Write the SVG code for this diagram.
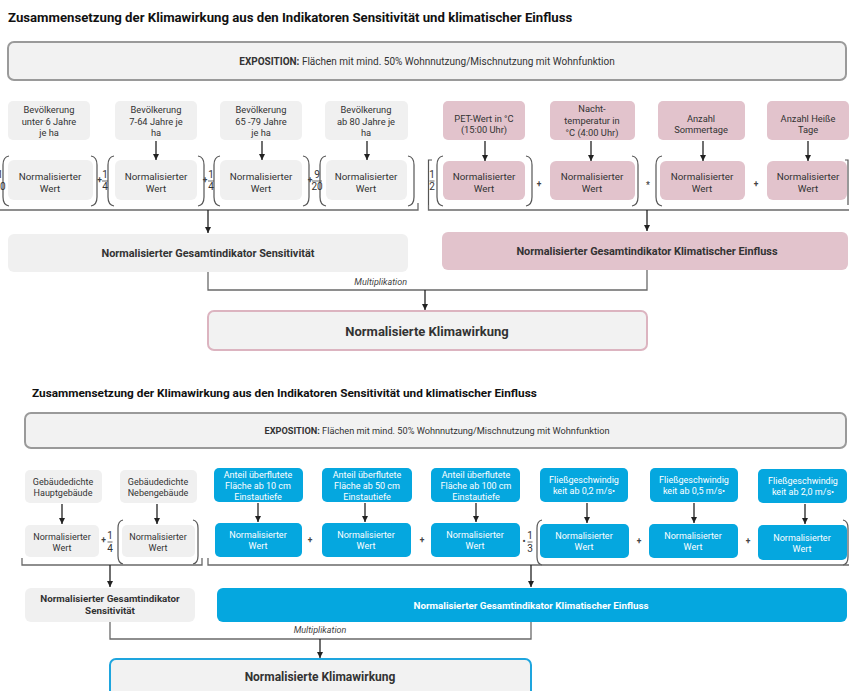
<svg xmlns="http://www.w3.org/2000/svg" width="849" height="691" viewBox="0 0 849 691">
  <defs>
    <marker id="ah" markerWidth="6" markerHeight="6" refX="6" refY="3" orient="auto" markerUnits="userSpaceOnUse">
      <path d="M0,0 L6,3 L0,6 z" fill="#222"/>
    </marker>
    <style>
      text { font-family: Roboto, "Liberation Sans", sans-serif; fill: #333; }
      .title { font-weight: bold; fill: #111; }
      .b { font-weight: bold; }
      .w { fill: #fff; }
      .c { text-anchor: middle; }
      .src { font-size: 9.3px; }
      .nrm { font-size: 9.8px; }
      .src2 { font-size: 9px; }
      .op { font-size: 8.5px; font-weight: bold; text-anchor: middle; fill: #444; }
      .fr { font-size: 10px; text-anchor: middle; fill: #333; }
      .gray { fill: #f0f0f0; }
      .pink { fill: #e2c3cc; }
      .blue { fill: #05a7df; }
      .expo { fill: #f2f2f2; stroke: #9a9a9a; stroke-width: 2; }
      .ln { fill: none; stroke: #6a6a6a; stroke-width: 1.3; }
      .par { fill: none; stroke: #555; stroke-width: 1.2; }
      .arr { fill: none; stroke: #222; stroke-width: 1.3; marker-end: url(#ah); }
      .frl { stroke: #444; stroke-width: 0.8; }
      .mul { font-size: 9px; font-style: italic; fill: #444; }
    </style>
  </defs>

  <!-- ===================== Upper scheme: heat ===================== -->
  <text class="title" x="8" y="22" font-size="13.2">Zusammensetzung der Klimawirkung aus den Indikatoren Sensitivität und klimatischer Einfluss</text>

  <g id="expo-top">
    <rect class="expo" x="8" y="42" width="838" height="38" rx="6"/>
    <text x="427" y="64.5" font-size="10" class="c"><tspan class="b">EXPOSITION:</tspan> Flächen mit mind. 50% Wohnnutzung/Mischnutzung mit Wohnfunktion</text>
  </g>

  <!-- sensitivity inputs -->
  <g id="bev-u6">
    <rect class="gray" x="8" y="101" width="82" height="39" rx="5"/>
    <text class="src c" x="49" y="113">Bevölkerung</text>
    <text class="src c" x="49" y="124.5">unter 6 Jahre</text>
    <text class="src c" x="49" y="136">je ha</text>
  </g>
  <g id="bev-7-64">
    <rect class="gray" x="115" y="101" width="82" height="39" rx="5"/>
    <text class="src c" x="156" y="113">Bevölkerung</text>
    <text class="src c" x="156" y="124.5">7-64 Jahre je</text>
    <text class="src c" x="156" y="136">ha</text>
  </g>
  <g id="bev-65-79">
    <rect class="gray" x="220" y="101" width="82" height="39" rx="5"/>
    <text class="src c" x="261" y="113">Bevölkerung</text>
    <text class="src c" x="261" y="124.5">65 -79 Jahre</text>
    <text class="src c" x="261" y="136">je ha</text>
  </g>
  <g id="bev-80">
    <rect class="gray" x="325" y="101" width="83" height="39" rx="5"/>
    <text class="src c" x="366" y="113">Bevölkerung</text>
    <text class="src c" x="366" y="124.5">ab 80 Jahre je</text>
    <text class="src c" x="366" y="136">ha</text>
  </g>

  <g id="norm-s1">
    <rect class="gray" x="8" y="160" width="85" height="40" rx="6"/>
    <text class="nrm c" x="50" y="180">Normalisierter</text>
    <text class="nrm c" x="50" y="191.5">Wert</text>
  </g>
  <g id="norm-s2">
    <rect class="gray" x="115" y="160" width="82" height="40" rx="6"/>
    <text class="nrm c" x="156" y="180">Normalisierter</text>
    <text class="nrm c" x="156" y="191.5">Wert</text>
  </g>
  <g id="norm-s3">
    <rect class="gray" x="220" y="160" width="82" height="40" rx="6"/>
    <text class="nrm c" x="261" y="180">Normalisierter</text>
    <text class="nrm c" x="261" y="191.5">Wert</text>
  </g>
  <g id="norm-s4">
    <rect class="gray" x="326" y="160" width="81" height="40" rx="6"/>
    <text class="nrm c" x="366" y="180">Normalisierter</text>
    <text class="nrm c" x="366" y="191.5">Wert</text>
  </g>

  <!-- climate inputs -->
  <g id="pet">
    <rect class="pink" x="443" y="101" width="82" height="39" rx="5"/>
    <text class="src c" x="484" y="122">PET-Wert in °C</text>
    <text class="src c" x="484" y="133">(15:00 Uhr)</text>
  </g>
  <g id="nacht">
    <rect class="pink" x="550" y="101" width="85" height="39" rx="5"/>
    <text class="src c" x="592" y="112">Nacht-</text>
    <text class="src c" x="592" y="124">temperatur in</text>
    <text class="src c" x="592" y="136">°C (4:00 Uhr)</text>
  </g>
  <g id="sommertage">
    <rect class="pink" x="658" y="101" width="87" height="39" rx="5"/>
    <text class="src c" x="701" y="122">Anzahl</text>
    <text class="src c" x="701" y="133">Sommertage</text>
  </g>
  <g id="heisse-tage">
    <rect class="pink" x="767" y="101" width="82" height="39" rx="5"/>
    <text class="src c" x="808" y="122">Anzahl Heiße</text>
    <text class="src c" x="808" y="133">Tage</text>
  </g>

  <g id="norm-k1">
    <rect class="pink" x="443" y="161" width="82" height="39" rx="6"/>
    <text class="nrm c" x="484" y="180">Normalisierter</text>
    <text class="nrm c" x="484" y="191.5">Wert</text>
  </g>
  <g id="norm-k2">
    <rect class="pink" x="550" y="161" width="85" height="39" rx="6"/>
    <text class="nrm c" x="592" y="180">Normalisierter</text>
    <text class="nrm c" x="592" y="191.5">Wert</text>
  </g>
  <g id="norm-k3">
    <rect class="pink" x="660" y="161" width="85" height="39" rx="6"/>
    <text class="nrm c" x="702" y="180">Normalisierter</text>
    <text class="nrm c" x="702" y="191.5">Wert</text>
  </g>
  <g id="norm-k4">
    <rect class="pink" x="767" y="161" width="80" height="39" rx="6"/>
    <text class="nrm c" x="808" y="180">Normalisierter</text>
    <text class="nrm c" x="808" y="191.5">Wert</text>
  </g>

  <!-- upper formula: brackets, operators, weights -->
  <g id="formula-top">
    <path class="par" d="M9,156 Q3,157 3,165 L3,197 Q3,205 9,206"/>
    <path class="par" d="M91,156 Q97,157 97,165 L97,197 Q97,205 91,206"/>
    <path class="par" d="M114,156 Q108,157 108,165 L108,197 Q108,205 114,206"/>
    <path class="par" d="M198,156 Q204,157 204,165 L204,197 Q204,205 198,206"/>
    <path class="par" d="M220,156 Q214,157 214,165 L214,197 Q214,205 220,206"/>
    <path class="par" d="M303,156 Q309,157 309,165 L309,197 Q309,205 303,206"/>
    <path class="par" d="M326,156 Q320,157 320,165 L320,197 Q320,205 326,206"/>
    <path class="par" d="M408,156 Q414,157 414,165 L414,197 Q414,205 408,206"/>

    <text class="fr" x="0" y="178">1</text>
    <text class="fr" x="0" y="190">20</text>
    <text class="op" x="99.5" y="183">+</text>
    <text class="fr" x="105" y="178">1</text>
    <line class="frl" x1="102" y1="181" x2="108" y2="181"/>
    <text class="fr" x="105" y="190">4</text>
    <text class="op" x="205" y="183">+</text>
    <text class="fr" x="211" y="178">1</text>
    <line class="frl" x1="208" y1="181" x2="214" y2="181"/>
    <text class="fr" x="211" y="190">4</text>
    <text class="op" x="310" y="183">+</text>
    <text class="fr" x="317" y="178">9</text>
    <line class="frl" x1="312" y1="181" x2="322" y2="181"/>
    <text class="fr" x="317" y="190">20</text>

    <path class="par" d="M432,160 L428.5,160 L428.5,205"/>
    <text class="fr" x="432" y="178" font-size="9">1</text>
    <line class="frl" x1="429.5" y1="181" x2="434.5" y2="181"/>
    <text class="fr" x="432" y="189.5" font-size="9">2</text>
    <path class="par" d="M443,156 Q437,157 437,165 L437,197 Q437,205 443,206"/>
    <path class="par" d="M526,156 Q532,157 532,165 L532,197 Q532,205 526,206"/>
    <text class="op" x="539" y="187">+</text>
    <path class="par" d="M632,156 Q638,157 638,165 L638,197 Q638,205 632,206"/>
    <text class="op" x="648" y="188">*</text>
    <path class="par" d="M662,156 Q656,157 656,165 L656,197 Q656,205 662,206"/>
    <text class="op" x="756" y="187">+</text>
    <path class="par" d="M845,160 L848,160 L848,205"/>
  </g>

  <g id="sens-total-top">
    <rect class="gray" x="8" y="234" width="400" height="38" rx="6"/>
    <text class="b c" x="208" y="257" font-size="10.9">Normalisierter Gesamtindikator Sensitivität</text>
  </g>
  <g id="klima-total-top">
    <rect class="pink" x="442" y="232" width="406" height="38" rx="6"/>
    <text class="b c" x="647" y="255" font-size="10.9">Normalisierter Gesamtindikator Klimatischer Einfluss</text>
  </g>

  <g id="wirkung-top">
    <rect x="208" y="311" width="439" height="39" rx="6" fill="#f2f2f2" stroke="#dcb4c0" stroke-width="2"/>
    <text class="b c" x="427" y="335.5" font-size="13" fill="#111">Normalisierte Klimawirkung</text>
  </g>

  <!-- ===================== Lower scheme: heavy rain ===================== -->
  <text class="title" x="32" y="397" font-size="11.8">Zusammensetzung der Klimawirkung aus den Indikatoren Sensitivität und klimatischer Einfluss</text>

  <g id="expo-bottom">
    <rect class="expo" x="25" y="413" width="821" height="35" rx="6"/>
    <text x="437" y="434" font-size="9.2" class="c"><tspan class="b">EXPOSITION:</tspan> Flächen mit mind. 50% Wohnnutzung/Mischnutzung mit Wohnfunktion</text>
  </g>

  <g id="haupt">
    <rect class="gray" x="25" y="470" width="77" height="33" rx="5"/>
    <text class="src2 c" x="63" y="485">Gebäudedichte</text>
    <text class="src2 c" x="63" y="496">Hauptgebäude</text>
  </g>
  <g id="neben">
    <rect class="gray" x="120" y="470" width="77" height="33" rx="5"/>
    <text class="src2 c" x="158" y="485">Gebäudedichte</text>
    <text class="src2 c" x="158" y="496">Nebengebäude</text>
  </g>
  <g id="norm-g1">
    <rect class="gray" x="25" y="525" width="74" height="32" rx="5"/>
    <text class="src2 c" x="62" y="540">Normalisierter</text>
    <text class="src2 c" x="62" y="551">Wert</text>
  </g>
  <g id="norm-g2">
    <rect class="gray" x="122" y="525" width="73" height="32" rx="5"/>
    <text class="src2 c" x="158" y="540">Normalisierter</text>
    <text class="src2 c" x="158" y="551">Wert</text>
  </g>

  <g id="flut-10">
    <rect class="blue" x="214" y="468" width="89" height="34" rx="5"/>
    <text class="src2 c w" x="258" y="477.5">Anteil überflutete</text>
    <text class="src2 c w" x="258" y="489">Fläche ab 10 cm</text>
    <text class="src2 c w" x="258" y="500">Einstautiefe</text>
  </g>
  <g id="flut-50">
    <rect class="blue" x="322" y="468" width="90" height="34" rx="5"/>
    <text class="src2 c w" x="367" y="477.5">Anteil überflutete</text>
    <text class="src2 c w" x="367" y="489">Fläche ab 50 cm</text>
    <text class="src2 c w" x="367" y="500">Einstautiefe</text>
  </g>
  <g id="flut-100">
    <rect class="blue" x="431" y="468" width="89" height="34" rx="5"/>
    <text class="src2 c w" x="476" y="477.5">Anteil überflutete</text>
    <text class="src2 c w" x="476" y="489">Fläche ab 100 cm</text>
    <text class="src2 c w" x="476" y="500">Einstautiefe</text>
  </g>
  <g id="v-02">
    <rect class="blue" x="540" y="468" width="88" height="34" rx="5"/>
    <text class="src2 c w" x="584" y="483">Fließgeschwindig</text>
    <text class="src2 c w" x="584" y="494">keit ab 0,2 m/s•</text>
  </g>
  <g id="v-05">
    <rect class="blue" x="650" y="468" width="88" height="34" rx="5"/>
    <text class="src2 c w" x="694" y="483">Fließgeschwindig</text>
    <text class="src2 c w" x="694" y="494">keit ab 0,5 m/s•</text>
  </g>
  <g id="v-20">
    <rect class="blue" x="758" y="469" width="89" height="34" rx="5"/>
    <text class="src2 c w" x="803" y="484">Fließgeschwindig</text>
    <text class="src2 c w" x="803" y="495">keit ab 2,0 m/s•</text>
  </g>

  <g id="norm-f1">
    <rect class="blue" x="215" y="523" width="87" height="34" rx="5"/>
    <text class="src2 c w" x="258" y="538">Normalisierter</text>
    <text class="src2 c w" x="258" y="549">Wert</text>
  </g>
  <g id="norm-f2">
    <rect class="blue" x="322" y="523" width="89" height="34" rx="5"/>
    <text class="src2 c w" x="366" y="538">Normalisierter</text>
    <text class="src2 c w" x="366" y="549">Wert</text>
  </g>
  <g id="norm-f3">
    <rect class="blue" x="431" y="523" width="89" height="34" rx="5"/>
    <text class="src2 c w" x="475" y="538">Normalisierter</text>
    <text class="src2 c w" x="475" y="549">Wert</text>
  </g>
  <g id="norm-v1">
    <rect class="blue" x="540" y="524" width="89" height="34" rx="5"/>
    <text class="src2 c w" x="584" y="539">Normalisierter</text>
    <text class="src2 c w" x="584" y="550">Wert</text>
  </g>
  <g id="norm-v2">
    <rect class="blue" x="649" y="524" width="89" height="34" rx="5"/>
    <text class="src2 c w" x="693" y="539">Normalisierter</text>
    <text class="src2 c w" x="693" y="550">Wert</text>
  </g>
  <g id="norm-v3">
    <rect class="blue" x="758" y="525" width="89" height="35" rx="5"/>
    <text class="src2 c w" x="802" y="541">Normalisierter</text>
    <text class="src2 c w" x="802" y="552">Wert</text>
  </g>

  <!-- lower formula -->
  <g id="formula-bottom">
    <text class="op" x="103.5" y="543">+</text>
    <text class="fr" x="110" y="539" font-size="9">1</text>
    <line class="frl" x1="107.5" y1="542" x2="112.5" y2="542"/>
    <text class="fr" x="110" y="551.5" font-size="9">4</text>
    <path class="par" d="M123,520 Q118,521 118,528 L118,556 Q118,563 123,564"/>
    <path class="par" d="M193,520 Q198,521 198,528 L198,556 Q198,563 193,564"/>

    <text class="op" x="310" y="543">+</text>
    <text class="op" x="422" y="543">+</text>
    <text class="op" x="524" y="544">•</text>
    <text class="fr" x="530" y="539" font-size="9">1</text>
    <line class="frl" x1="527.5" y1="542" x2="532.5" y2="542"/>
    <text class="fr" x="530" y="551.5" font-size="9">3</text>
    <path class="par" d="M542,520 Q537,521 537,528 L537,557 Q537,564 542,565"/>
    <text class="op" x="639" y="544">+</text>
    <text class="op" x="748" y="544">+</text>
    <path class="par" d="M843,520 Q848,521 848,528 L848,557 Q848,564 843,565"/>
  </g>

  <g id="sens-total-bottom">
    <rect class="gray" x="25" y="588" width="170" height="34" rx="6"/>
    <text class="b c" x="110" y="602" font-size="9.8">Normalisierter Gesamtindikator</text>
    <text class="b c" x="110" y="613.5" font-size="9.8">Sensitivität</text>
  </g>
  <g id="klima-total-bottom">
    <rect class="blue" x="217" y="588" width="630" height="34" rx="6"/>
    <text class="b c w" x="531" y="608.5" font-size="9.8">Normalisierter Gesamtindikator Klimatischer Einfluss</text>
  </g>

  <g id="wirkung-bottom">
    <rect x="110" y="659" width="421" height="45" rx="6" fill="#f2f2f2" stroke="#1ea5de" stroke-width="2"/>
    <text class="b c" x="320" y="681" font-size="12" fill="#111">Normalisierte Klimawirkung</text>
  </g>

  <!-- ===================== Connectors ===================== -->
  <g id="connectors">
    <!-- upper: inputs to normalised values -->
    <line class="arr" x1="156" y1="141" x2="156" y2="160"/>
    <line class="arr" x1="262" y1="141" x2="262" y2="160"/>
    <line class="arr" x1="367" y1="141" x2="367" y2="160"/>
    <line class="arr" x1="485" y1="141" x2="485" y2="161"/>
    <line class="arr" x1="591" y1="141" x2="591" y2="161"/>
    <line class="arr" x1="703" y1="141" x2="703" y2="161"/>
    <line class="arr" x1="808" y1="141" x2="808" y2="161"/>
    <!-- upper: summation braces -->
    <path class="ln" d="M0,210 L418,210 L418,203"/>
    <path class="ln" d="M428.5,205 L428.5,210 L849,210"/>
    <line class="arr" x1="208" y1="210" x2="208" y2="233"/>
    <line class="arr" x1="647" y1="210" x2="647" y2="231"/>
    <!-- upper: multiplication -->
    <path class="ln" d="M208,272 L208,290 L647,290 L647,270"/>
    <line class="arr" x1="425" y1="290" x2="425" y2="310"/>
    <text class="mul" x="407" y="285" text-anchor="end">Multiplikation</text>

    <!-- lower: inputs to normalised values -->
    <line class="arr" x1="62" y1="504" x2="62" y2="524"/>
    <line class="arr" x1="157" y1="504" x2="157" y2="524"/>
    <line class="arr" x1="258" y1="503" x2="258" y2="522"/>
    <line class="arr" x1="365" y1="503" x2="365" y2="522"/>
    <line class="arr" x1="476" y1="503" x2="476" y2="522"/>
    <line class="arr" x1="587" y1="503" x2="587" y2="523"/>
    <line class="arr" x1="694" y1="503" x2="694" y2="523"/>
    <line class="arr" x1="805" y1="504" x2="805" y2="524"/>
    <!-- lower: summation braces -->
    <path class="ln" d="M22,558 L22,565 L202,565 L202,558"/>
    <path class="ln" d="M208,558 L208,565 L849,565"/>
    <line class="arr" x1="110" y1="565" x2="110" y2="587"/>
    <line class="arr" x1="531" y1="565" x2="531" y2="587"/>
    <!-- lower: multiplication -->
    <path class="ln" d="M110,622 L110,639 L531,639 L531,622"/>
    <line class="arr" x1="320" y1="639" x2="320" y2="658"/>
    <text class="mul" x="320" y="633" text-anchor="middle">Multiplikation</text>
  </g>
</svg>
